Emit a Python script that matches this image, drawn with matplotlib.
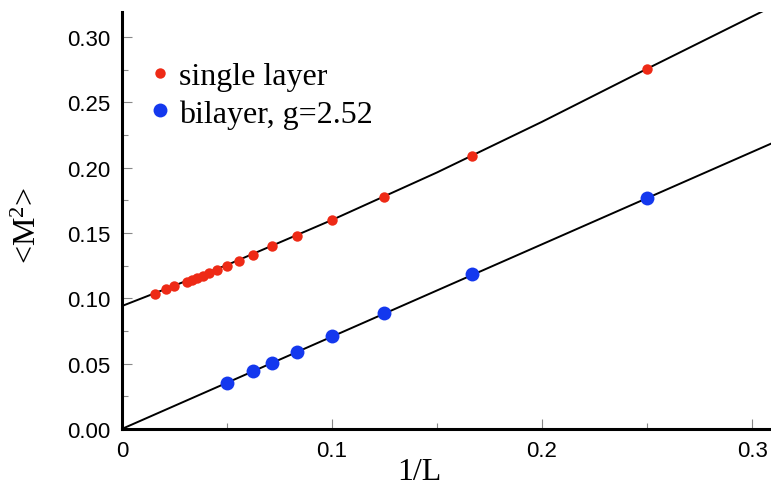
import numpy as np
import matplotlib
matplotlib.use("Agg")
import matplotlib.pyplot as plt
from matplotlib.ticker import MultipleLocator

# 1/L values and <M^2>
single_L = [64, 48, 40, 32, 30, 28, 26, 24, 22, 20, 18, 16, 14, 12, 10, 8, 6, 4]
single_m2 = [0.1035, 0.1075, 0.1095, 0.1128, 0.1140, 0.1158, 0.1175, 0.1198,
             0.1218, 0.1250, 0.1287, 0.1335, 0.1400, 0.1478, 0.1600, 0.1778,
             0.2092, 0.2758]

bilayer_L = [20, 16, 14, 12, 10, 8, 6, 4]
bilayer_m2 = [0.0352, 0.0444, 0.0505, 0.0589, 0.0712, 0.0888, 0.1186, 0.1770]

# fit curves, points
single_fit_x = [0.0, 0.05, 0.1, 0.15, 0.2, 0.25, 0.31]
single_fit_y = [0.0941, 0.1255, 0.1600, 0.1964, 0.2352, 0.2758, 0.3238]
bilayer_fit_x = [0.0, 0.315]
bilayer_fit_y = [0.0, 0.2227]

RED = "#ee2a16"
BLUE = "#1438ee"

plt.rcParams["mathtext.fontset"] = "custom"
plt.rcParams["mathtext.rm"] = "Liberation Serif"
plt.rcParams["mathtext.it"] = "Liberation Serif:italic"

fig = plt.figure(figsize=(7.71, 4.89), dpi=100)
ax = fig.add_axes([0.158, 0.1207, 0.842, 0.852])

ax.plot(single_fit_x, single_fit_y, color="black", lw=1.4, zorder=1)
ax.plot(bilayer_fit_x, bilayer_fit_y, color="black", lw=1.4, zorder=1)

x_single = 1.0 / np.array(single_L)
x_bilayer = 1.0 / np.array(bilayer_L)
ax.plot(x_single, single_m2, "o", color=RED, ms=7.5, mec="none",
        label="single layer", zorder=3)
ax.plot(x_bilayer, bilayer_m2, "o", color=BLUE, ms=10, mec="none",
        label="bilayer, g=2.52", zorder=3)

ax.set_xlim(0, 0.309)
ax.set_ylim(0, 0.319)
ax.xaxis.set_minor_locator(MultipleLocator(0.05))
ax.yaxis.set_minor_locator(MultipleLocator(0.025))
ax.set_xticks([0, 0.1, 0.2, 0.3])
ax.set_xticklabels(["0", "0.1", "0.2", "0.3"])
ax.set_yticks([0, 0.05, 0.1, 0.15, 0.2, 0.25, 0.3])
ax.set_yticklabels(["0.00", "0.05", "0.10", "0.15", "0.20", "0.25", "0.30"])

ax.tick_params(which="both", direction="in", width=0.8, color="#888888")
ax.tick_params(which="major", length=7, labelsize=16, pad=8)
ax.tick_params(which="minor", length=4)
for lab in ax.get_xticklabels() + ax.get_yticklabels():
    lab.set_family("Liberation Sans")

for side in ["top", "right"]:
    ax.spines[side].set_visible(False)
for side in ["left", "bottom"]:
    ax.spines[side].set_linewidth(2.2)

ax.set_xlabel("1/L", family="Liberation Serif", fontsize=23)
ax.xaxis.set_label_coords(0.458, -0.067)
ax.set_ylabel("<M$^{2}$>", family="Liberation Serif", fontsize=23)
ax.yaxis.set_label_coords(-0.121, 0.49)

leg = ax.legend(loc="upper left", bbox_to_anchor=(0.014, 0.912), frameon=False,
                prop={"family": "Liberation Serif", "size": 23},
                handletextpad=0.1, handlelength=1.0, labelspacing=0.25,
                borderaxespad=0)

fig.savefig("out.png", dpi=100)
